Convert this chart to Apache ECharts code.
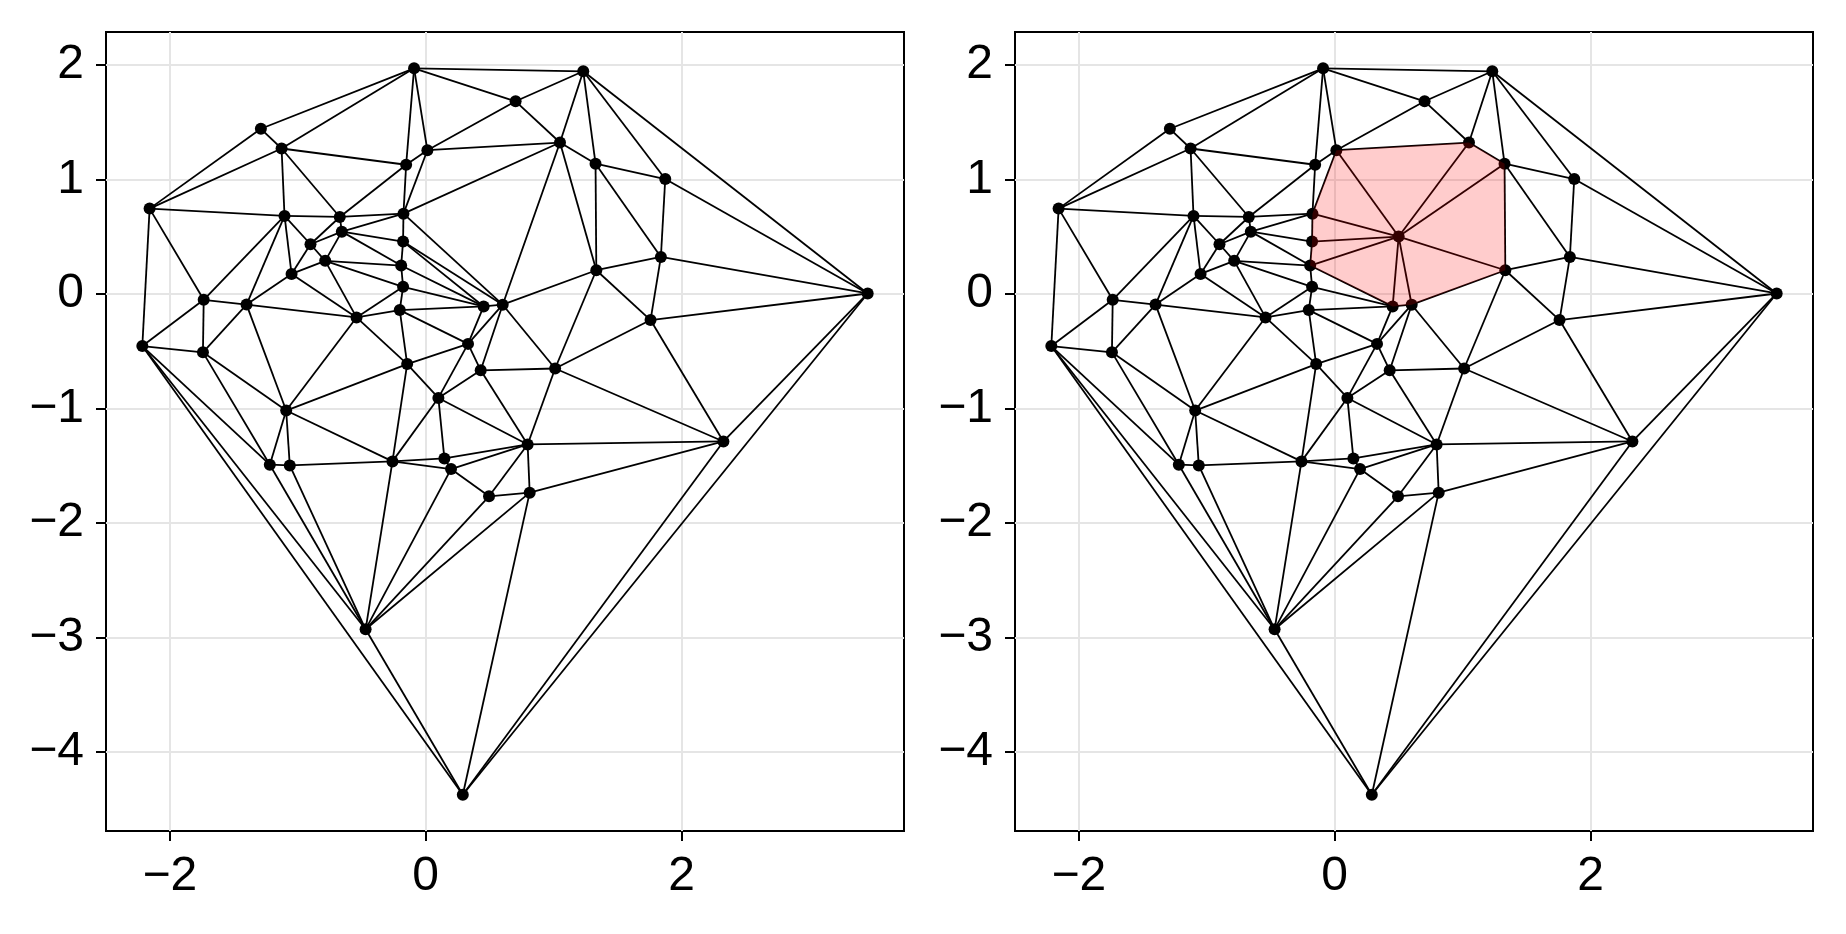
<!DOCTYPE html>
<html><head><meta charset="utf-8">
<script src="https://cdn.jsdelivr.net/npm/echarts@6/dist/echarts.min.js"></script>
<style>html,body{margin:0;padding:0;background:#fff}#chart{width:1846px;height:934px}</style>
</head><body><div id="chart"></div>
<script>
// point coordinates (1-based numbering used in the edge lists)
const px = [-2.216,-2.159,-1.289,-1.127,-0.091,1.232,0.703,1.050,0.013,-0.153,1.328,1.873,-1.104,-0.672,-0.656,-0.901,-0.786,-1.049,-0.174,-0.177,-0.192,-0.177,-0.203,0.453,0.602,1.334,1.839,3.456,-1.736,-1.401,-0.541,-1.742,1.758,0.331,-0.145,0.430,1.012,0.099,-1.091,0.797,2.328,-0.260,0.146,0.198,-1.219,-1.063,0.495,0.813,-0.470,0.290];
const py = [-0.456,0.744,1.441,1.269,1.969,1.943,1.681,1.321,1.254,1.127,1.136,1.002,0.680,0.671,0.543,0.433,0.288,0.174,0.700,0.456,0.247,0.061,-0.142,-0.110,-0.095,0.206,0.322,0.003,-0.052,-0.094,-0.206,-0.511,-0.229,-0.437,-0.613,-0.668,-0.652,-0.909,-1.019,-1.315,-1.289,-1.463,-1.437,-1.530,-1.492,-1.498,-1.768,-1.736,-2.929,-4.373];
// inserted point (right panel), point number 51
const newX = 0.5;
const newY = 0.5;
// triangulation edges (left panel)
const edges = [[1,2],[1,29],[1,32],[1,45],[1,49],[1,50],[2,3],[2,4],[2,13],[2,29],[3,4],[3,5],
[4,5],[4,10],[4,13],[4,14],[5,6],[5,7],[5,9],[5,10],[6,7],[6,8],[6,11],[6,12],[6,28],[7,8],[7,9],
[8,9],[8,11],[8,19],[8,25],[8,26],[9,10],[9,19],[10,14],[10,19],[11,12],[11,26],[11,27],[12,27],[12,28],
[13,14],[13,16],[13,18],[13,29],[13,30],[14,15],[14,16],[14,19],[15,16],[15,17],[15,19],[15,20],[15,21],
[16,17],[16,18],[17,18],[17,21],[17,22],[17,31],[18,30],[18,31],[19,20],[19,25],[20,21],[20,24],[20,25],
[21,22],[21,24],[22,23],[22,24],[22,31],[23,24],[23,31],[23,34],[23,35],[24,25],[24,34],
[25,26],[25,34],[25,36],[25,37],[26,27],[26,33],[26,37],[27,28],[27,33],[28,33],[28,41],[28,50],
[29,30],[29,32],[30,31],[30,32],[30,39],[31,35],[31,39],[32,39],[32,45],[33,37],[33,41],
[34,35],[34,36],[34,38],[35,38],[35,39],[35,42],[36,37],[36,38],[36,40],[37,40],[37,41],
[38,40],[38,42],[38,43],[39,42],[39,45],[39,46],[40,41],[40,43],[40,44],[40,47],[40,48],
[41,48],[41,50],[42,43],[42,44],[42,46],[42,49],[43,44],[44,47],[44,49],[45,46],[45,49],[46,49],
[47,48],[47,49],[48,49],[48,50],[49,50]];
// edges removed by inserting point 51, and the new edges from point 51
const removedEdges = [[8,19],[20,24],[19,25],[8,25],[20,25],[8,26]];
const starEdges = [[51,9],[51,8],[51,11],[51,26],[51,25],[51,24],[51,21],[51,20],[51,19]];
// cavity polygon (highlighted region), in order
const cavity = [9,8,11,26,25,24,21,20,19];
const xTicks = [-2,0,2];
const yTicks = [-4,-3,-2,-1,0,1,2];

const chart = echarts.init(document.getElementById('chart'), null, {renderer:'canvas'});
const FONT = '"Liberation Sans", Arial, sans-serif';
const minus = v => String(v).replace('-', '\u2212');
const px2 = px.concat([newX]);
const py2 = py.concat([newY]);
const key = e => Math.min(e[0],e[1]) + '-' + Math.max(e[0],e[1]);
const removedSet = new Set(removedEdges.map(key));
const edges2 = edges.filter(e => !removedSet.has(key(e))).concat(starEdges);

function axisX(i){
  return {type:'value', gridIndex:i, min:-2.5, max:3.74, position:'bottom',
    axisLine:{show:false, onZero:false},
    axisTick:{show:true, inside:false, length:10, customValues:xTicks, lineStyle:{color:'#000', width:2}},
    axisLabel:{customValues:xTicks, fontSize:48, color:'#000', margin:22, fontFamily:FONT, formatter:minus},
    splitLine:{show:true, lineStyle:{color:'#e5e5e5', width:2}}};
}
function axisY(i){
  return {type:'value', gridIndex:i, min:-4.69, max:2.286, position:'left',
    axisLine:{show:false, onZero:false},
    axisTick:{show:true, inside:false, length:10, customValues:yTicks, lineStyle:{color:'#000', width:2}},
    axisLabel:{customValues:yTicks, fontSize:48, color:'#000', margin:22, fontFamily:FONT, formatter:minus},
    splitLine:{show:true, lineStyle:{color:'#e5e5e5', width:2}}};
}
function lineSeries(i, X, Y, E){
  return {type:'lines', coordinateSystem:'cartesian2d', xAxisIndex:i, yAxisIndex:i, silent:true, z:2,
    lineStyle:{color:'#000', width:1.8, opacity:1},
    data:E.map(([a,b]) => ({coords:[[X[a-1],Y[a-1]],[X[b-1],Y[b-1]]]}))};
}
function pointSeries(i, X, Y){
  return {type:'scatter', xAxisIndex:i, yAxisIndex:i, silent:true, z:3, symbol:'circle', symbolSize:12,
    itemStyle:{color:'#000', opacity:1}, data:X.map((x,k) => [x, Y[k]])};
}
const option = {
  animation:false,
  backgroundColor:'#fff',
  grid:[
    {left:106, top:32, width:798, height:799, show:true, borderColor:'#000', borderWidth:2, backgroundColor:'transparent'},
    {left:1015, top:32, width:798, height:799, show:true, borderColor:'#000', borderWidth:2, backgroundColor:'transparent'}
  ],
  xAxis:[axisX(0), axisX(1)],
  yAxis:[axisY(0), axisY(1)],
  series:[
    lineSeries(0, px, py, edges),
    pointSeries(0, px, py),
    lineSeries(1, px2, py2, edges2),
    pointSeries(1, px2, py2),
    {type:'custom', xAxisIndex:1, yAxisIndex:1, silent:true, z:5, data:[[0,0]],
      renderItem:(params, api) => ({type:'polygon',
        shape:{points:cavity.map(i => api.coord([px2[i-1], py2[i-1]]))},
        style:{fill:'rgba(255,0,0,0.2)', stroke:null}})}
  ]
};
chart.setOption(option);
</script></body></html>
